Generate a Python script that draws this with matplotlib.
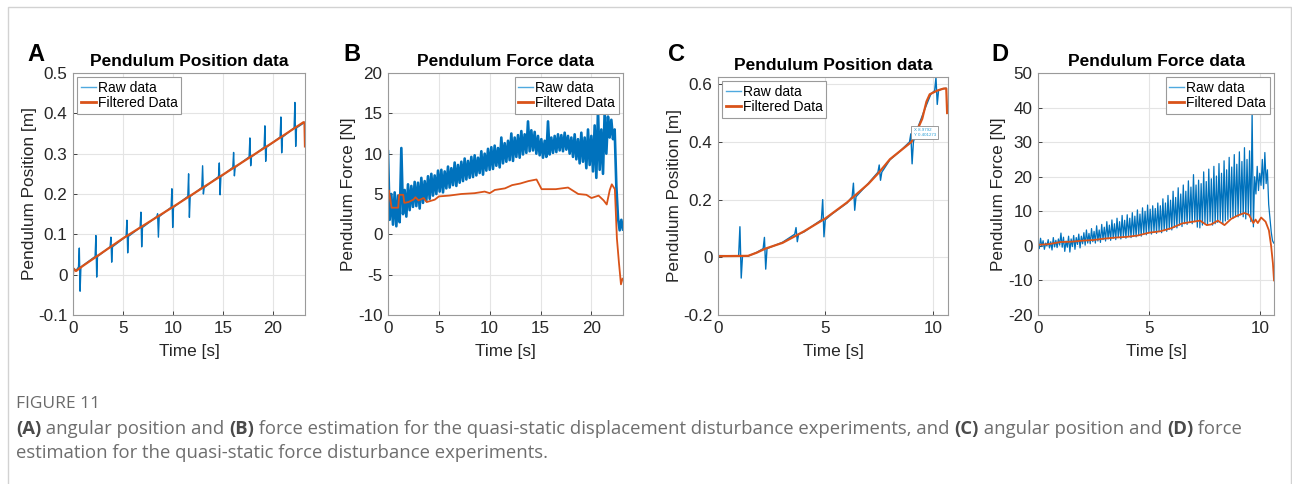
import numpy as np
import matplotlib.pyplot as plt
from matplotlib.lines import Line2D
from matplotlib.patches import Rectangle

plt.rcParams['font.family'] = ['Liberation Sans', 'DejaVu Sans']
plt.rcParams['axes.unicode_minus'] = False

RAW = '#0072BD'
RAW_LEG = '#4fa9df'
FILT = '#D95319'
W, H = 1292, 484

# ---- A: position, displacement disturbance ----
a_trend_t = [0, 0.05, 0.3, 23.2]
a_trend_y = [0.004, 0.016, 0.010, 0.378]
a_spk_t = [0.67, 2.33, 3.83, 5.43, 6.83, 8.5, 9.93, 11.6, 13.0, 14.67, 16.1, 17.73, 19.23, 20.83, 22.23]
a_spk_base = [0.019, 0.045, 0.069, 0.095, 0.117, 0.144, 0.167, 0.194, 0.216, 0.243, 0.266, 0.292, 0.316, 0.341, 0.364]
a_spk_hi = [0.066, 0.097, 0.093, 0.135, 0.155, 0.151, 0.213, 0.25, 0.27, 0.277, 0.303, 0.339, 0.369, 0.391, 0.427]
a_spk_lo = [-0.041, -0.006, 0.031, 0.054, 0.069, 0.093, 0.117, 0.142, 0.2, 0.198, 0.245, 0.27, 0.281, 0.302, 0.318]
a_filt_t = [0, 0.05, 0.3, 1.0, 5, 10, 15, 20, 23.05, 23.15, 23.2]
a_filt_y = [0.002, 0.015, 0.009, 0.022, 0.09, 0.168, 0.248, 0.328, 0.378, 0.377, 0.318]

# ---- B: force, displacement disturbance (raw signal peaks / troughs) ----
b_raw_hi = [10.3, 5.0, 5.2, 4.8, 10.7, 5.5, 6.2, 6.0, 6.5, 6.4,
            7.0, 6.6, 7.2, 7.5, 7.3, 7.9, 8.0, 7.8, 8.4, 8.2,
            8.9, 8.6, 9.0, 9.4, 9.1, 9.6, 9.8, 9.5, 10.3, 10.0,
            10.6, 10.8, 11.0, 10.7, 12.0, 11.3, 11.6, 12.5, 12.0, 12.3,
            12.8, 12.4, 14.0, 12.9, 12.7, 12.2, 11.8, 11.6, 14.0, 12.0,
            12.2, 12.4, 12.3, 12.6, 12.2, 12.0, 12.4, 11.8, 12.6, 12.0,
            13.0, 12.2, 13.5, 15.5, 13.0, 15.2, 14.6, 14.2, 13.0, 2.0, 1.8]
b_raw_lo = [1.8, 1.2, 1.0, 1.5, 2.5, 2.2, 3.0, 3.4, 3.5, 3.2,
            3.9, 4.2, 4.4, 4.8, 5.0, 5.3, 5.2, 5.7, 5.8, 6.1,
            6.0, 6.4, 6.6, 6.8, 7.0, 7.1, 7.3, 7.6, 7.4, 7.9,
            8.0, 8.1, 8.5, 8.3, 8.8, 9.0, 9.2, 9.1, 9.6, 9.5,
            9.9, 10.1, 10.3, 10.4, 10.0, 9.8, 9.5, 9.6, 9.9, 10.1,
            10.2, 10.4, 10.3, 10.5, 10.0, 9.6, 9.3, 8.8, 9.0, 8.2,
            8.6, 7.8, 7.0, 8.0, 7.5, 10.0, 12.0, 11.8, 6.0, 0.5, 0.6]
b_filt_t = [0, 0.05, 0.2, 0.35, 0.5, 1.0, 1.1, 1.5, 1.6, 2.0, 2.5, 2.7, 3.0, 3.5, 3.8,
            4.6, 5.0, 6.0, 7.2, 8.5, 9.5, 10.0, 10.5, 11.5, 12.2, 13.0, 13.8, 14.6, 15.1,
            16.5, 17.7, 18.7, 19.5, 20.0, 20.7, 21.2, 21.5, 21.8, 22.0, 22.3, 22.5, 22.7,
            22.9, 23.05]
b_filt_y = [2.6, 5.5, 4.6, 3.3, 3.3, 3.3, 4.9, 4.9, 3.9, 4.0, 4.3, 4.6, 4.2, 4.5, 4.0,
            4.3, 4.7, 4.8, 5.0, 5.1, 5.3, 5.1, 5.5, 5.7, 6.1, 6.3, 6.6, 6.8, 5.6,
            5.6, 5.8, 5.0, 4.9, 4.5, 4.8, 4.2, 3.7, 5.5, 6.2, 5.6, -0.5, -3.5,
            -6.2, -5.5]

# ---- C: position, force disturbance ----
c_trend_t = [0, 1.4, 1.8, 2.5, 3.0, 4.0, 5.3, 6.0, 7.0, 8.0, 8.5, 9.3, 9.6, 9.9, 10.4, 10.6]
c_trend_y = [0.006, 0.004, 0.017, 0.037, 0.052, 0.088, 0.150, 0.188, 0.257, 0.338, 0.37,
             0.45, 0.51, 0.565, 0.583, 0.586]
c_spk_t = [1.05, 2.19, 3.66, 4.9, 6.33, 7.53, 9.0, 10.17]
c_spk_base = [0.005, 0.03, 0.08, 0.13, 0.21, 0.295, 0.40, 0.578]
c_spk_hi = [0.106, 0.069, 0.103, 0.2, 0.257, 0.32, 0.428, 0.623]
c_spk_lo = [-0.072, -0.041, 0.054, 0.071, 0.163, 0.267, 0.324, 0.53]
c_filt_t = [0, 1.4, 1.8, 2.2, 3.0, 4.0, 5.0, 6.0, 7.0, 7.5, 8.0, 8.5, 9.0, 9.2, 9.5,
            9.7, 9.85, 10.2, 10.5, 10.62, 10.66]
c_filt_y = [0.004, 0.005, 0.016, 0.03, 0.05, 0.09, 0.135, 0.19, 0.255, 0.295, 0.34, 0.37,
            0.40, 0.43, 0.48, 0.54, 0.565, 0.578, 0.585, 0.585, 0.5]

# ---- D: force, force disturbance (raw signal peaks / troughs) ----
d_raw_hi = [1.0, 2.2, 1.5, 0.8, 1.8, 1.2, 2.4, 1.6, 2.0, 3.7,
            2.5, 1.4, 2.8, 2.0, 3.0, 2.4, 3.4, 2.8, 3.8, 4.6,
            3.6, 5.0, 4.2, 5.8, 4.6, 6.2, 5.4, 7.0, 6.0, 7.5,
            6.4, 8.0, 7.0, 8.8, 7.4, 9.0, 8.0, 9.6, 8.6, 10.4,
            9.2, 11.0, 10.0, 11.8, 10.6, 11.6, 10.8, 12.4, 11.6, 13.6,
            12.4, 14.6, 13.2, 15.8, 14.0, 16.8, 15.0, 17.6, 15.8, 18.8,
            17.0, 20.6, 17.6, 19.0, 18.0, 21.4, 18.6, 22.2, 19.4, 23.0,
            20.2, 23.8, 21.0, 24.6, 22.0, 25.6, 22.8, 26.4, 23.6, 27.2,
            24.4, 28.4, 25.0, 27.5, 38.8, 20.0, 23.0, 21.0, 25.0, 27.0,
            22.0, 8.0, 1.5]
d_raw_lo = [-0.8, -0.2, -1.0, 0.0, -0.6, -1.2, -0.3, -0.5, 0.2, -0.4,
            -1.6, -0.4, -1.8, -0.2, -1.0, 0.4, -0.6, 0.6, 0.2, 0.8,
            0.6, 1.2, 0.8, 1.4, 1.0, 1.8, 1.4, 2.0, 1.6, 2.2,
            1.8, 2.4, 2.0, 2.6, 2.2, 2.8, 2.4, 2.8, 2.6, 3.0,
            2.8, 3.4, 3.2, 3.8, 3.4, 4.0, 3.6, 4.2, 3.8, 4.4,
            4.2, 4.8, 4.6, 5.4, 5.2, 6.0, 5.6, 6.4, 6.2, 6.8,
            6.4, 7.0, 5.4, 5.2, 6.0, 6.6, 6.2, 7.0, 6.0, 6.4,
            6.8, 7.4, 6.4, 7.2, 7.6, 8.2, 8.0, 8.6, 8.4, 9.0,
            8.4, 7.8, 9.0, 7.0, 5.5, 15.0, 16.0, 17.5, 16.5, 18.0,
            12.0, 4.0, 0.8]
d_filt_t = [0, 0.5, 1.0, 1.5, 2.0, 2.5, 3.0, 3.5, 4.0, 4.5, 5.0, 5.5, 6.0, 6.5, 7.0, 7.3,
            7.6, 7.8, 8.1, 8.4, 8.7, 9.0, 9.3, 9.5, 9.7, 9.8, 9.9, 10.05, 10.25, 10.4,
            10.5, 10.58, 10.63]
d_filt_y = [0.3, 0.5, 1.1, 1.2, 1.5, 1.7, 2.1, 2.4, 2.6, 3.0, 3.8, 4.2, 5.1, 6.5, 7.0, 7.3,
            6.0, 6.2, 7.3, 6.0, 7.8, 8.8, 9.5, 9.0, 6.6, 7.6, 6.6, 8.2, 7.0, 4.5,
            0.0, -5.0, -10.0]


def with_spikes(trend_t, trend_y, sp_t, sp_base, sp_hi, sp_lo, w):
    t = list(trend_t)
    y = list(trend_y)
    for st, b, h, l in zip(sp_t, sp_base, sp_hi, sp_lo):
        t += [st - w, st - w / 3, st + w / 3, st + w]
        y += [b, h, l, b]
    order = np.argsort(t)
    return np.array(t)[order], np.array(y)[order]


def zigzag(hi, lo):
    return np.column_stack([hi, lo]).ravel()


def px_axes(left, top, right, bottom):
    return fig.add_axes([left / W, 1 - bottom / H, (right - left) / W, (bottom - top) / H])


def style(ax, title, ylabel, letter, lx, legloc):
    ax.set_title(title, fontsize=12.5, fontweight='bold', pad=5)
    ax.set_xlabel('Time [s]', fontsize=12.4, color='#262626', labelpad=6)
    ax.set_ylabel(ylabel, fontsize=12.4, color='#262626', labelpad=1)
    ax.grid(True, color='#e4e4e4', lw=0.8)
    ax.set_axisbelow(True)
    ax.tick_params(direction='in', length=3, width=0.6, colors='#262626', labelsize=12.3, pad=4)
    for s in ax.spines.values():
        s.set_color('#9a9a9a')
        s.set_linewidth(0.8)
    handles = [Line2D([], [], color=RAW_LEG, lw=1.0), Line2D([], [], color=FILT, lw=2.0)]
    leg = ax.legend(handles, ['Raw data', 'Filtered Data'], loc=legloc, fontsize=10,
                    handlelength=1.1, handletextpad=0.15, borderpad=0.25,
                    labelspacing=0.1, borderaxespad=0.3, fancybox=False,
                    edgecolor='#9a9a9a', framealpha=1)
    leg.get_frame().set_linewidth(0.8)
    fig.text(lx / W, 1 - 61 / H, letter, fontsize=17, fontweight='bold', va='baseline')


fig = plt.figure(figsize=(W / 100, H / 100), dpi=100)

# A
ax = px_axes(73, 73, 305, 315)
t, y = with_spikes(a_trend_t, a_trend_y, a_spk_t, a_spk_base, a_spk_hi, a_spk_lo, 0.12)
ax.plot(t, y, color=RAW, lw=1.0)
ax.plot(a_filt_t, a_filt_y, color=FILT, lw=1.6)
ax.set_xlim(0, 23.2)
ax.set_ylim(-0.1, 0.5)
ax.set_xticks([0, 5, 10, 15, 20])
ax.set_yticks([-0.1, 0, 0.1, 0.2, 0.3, 0.4, 0.5])
ax.set_yticklabels(['-0.1', '0', '0.1', '0.2', '0.3', '0.4', '0.5'])
style(ax, 'Pendulum Position data', 'Pendulum Position [m]', 'A', 27, 'upper left')

# B
ax = px_axes(388, 73, 623, 315)
ax.plot(np.linspace(0, 23.1, 2 * len(b_raw_hi)), zigzag(b_raw_hi, b_raw_lo), color=RAW, lw=1.9)
ax.plot(b_filt_t, b_filt_y, color=FILT, lw=1.3)
ax.set_xlim(0, 23.1)
ax.set_ylim(-10, 20)
ax.set_xticks([0, 5, 10, 15, 20])
ax.set_yticks([-10, -5, 0, 5, 10, 15, 20])
style(ax, 'Pendulum Force data', 'Pendulum Force [N]', 'B', 343, 'upper right')

# C
ax = px_axes(718, 77, 948, 315)
t, y = with_spikes(c_trend_t, c_trend_y, c_spk_t, c_spk_base, c_spk_hi, c_spk_lo, 0.09)
ax.plot(t, y, color=RAW, lw=1.0)
ax.plot(c_filt_t, c_filt_y, color=FILT, lw=1.6)
ax.set_xlim(0, 10.7)
ax.set_ylim(-0.2, 0.625)
ax.set_xticks([0, 5, 10])
ax.set_yticks([-0.2, 0, 0.2, 0.4, 0.6])
ax.set_yticklabels(['-0.2', '0', '0.2', '0.4', '0.6'])
ax.text(9.1, 0.433, 'X 8.9792\nY 0.401273', fontsize=3.2, color='#2a9fd6', va='center',
        linespacing=1.4, zorder=10,
        bbox=dict(boxstyle='square,pad=0.5', fc='white', ec='#8a8a8a', lw=0.6))
style(ax, 'Pendulum Position data', 'Pendulum Position [m]', 'C', 668, 'upper left')

# D
ax = px_axes(1038, 73, 1274, 315)
ax.plot(np.linspace(0, 10.62, 2 * len(d_raw_hi)), zigzag(d_raw_hi, d_raw_lo), color=RAW, lw=0.9)
ax.plot(d_filt_t, d_filt_y, color=FILT, lw=1.3)
ax.set_xlim(0, 10.63)
ax.set_ylim(-20, 50)
ax.set_xticks([0, 5, 10])
ax.set_yticks([-20, -10, 0, 10, 20, 30, 40, 50])
style(ax, 'Pendulum Force data', 'Pendulum Force [N]', 'D', 991, 'upper right')

# outer frame and caption
fig.add_artist(Rectangle((7.5 / W, -0.1), 1283 / W, 1.1 - 7.5 / H, transform=fig.transFigure,
                         fill=False, edgecolor='#d2d2d2', lw=1.0))

cap_font = ['Open Sans', 'DejaVu Sans']
cap_ax = fig.add_axes([0, 0, 1, 1])
cap_ax.axis('off')
cap_ax.text(16 / W, 1 - 404 / H, 'FIGURE 11', fontsize=12.5, color='#6a6a6a', va='center',
            family=cap_font)


def caption_line(y_px, pieces):
    prev = None
    for txt, bold in pieces:
        kw = dict(fontsize=13.3, family=cap_font, va='bottom', ha='left',
                  color='#4a4a4a' if bold else '#6e6e6e',
                  fontweight='bold' if bold else 'normal')
        if prev is None:
            prev = cap_ax.text(16 / W, 1 - y_px / H, txt, **kw)
        else:
            prev = cap_ax.annotate(txt, xy=(1, 0), xycoords=prev, xytext=(0, 0),
                                   textcoords='offset points', **kw)


caption_line(438, [('(A)', True), (' angular position and ', False), ('(B)', True),
                   (' force estimation for the quasi-static displacement disturbance experiments, and ', False),
                   ('(C)', True), (' angular position and ', False), ('(D)', True), (' force', False)])
caption_line(462, [('estimation for the quasi-static force disturbance experiments.', False)])

fig.savefig('out.png', dpi=100)
